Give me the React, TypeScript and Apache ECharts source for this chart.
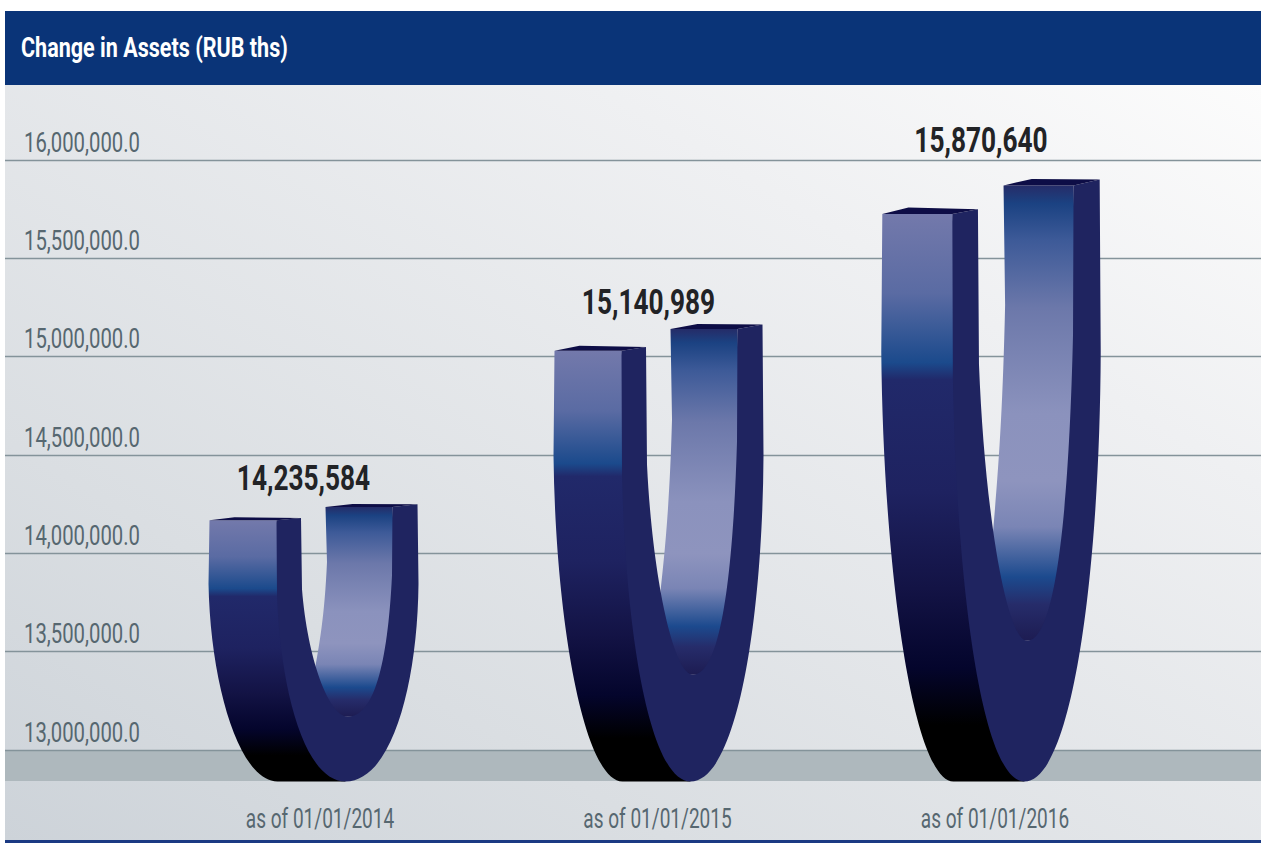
import React, { useEffect, useRef } from "react";
import * as echarts from "echarts";

// Reporting dates and total assets, RUB thousands
const categories = ["as of 01/01/2014", "as of 01/01/2015", "as of 01/01/2016"];
const assets = [14235584, 15140989, 15870640];
const tickValues = [13000000, 13500000, 14000000, 14500000, 15000000, 15500000, 16000000];
const tickStep = 500000;
// The U shapes stand on a floor slightly under the lowest tick
const floorValue = 12840000;

const titleText = "Change in Assets (RUB ths)";

// Per-column nudges of the shape and of its value caption, in pixels
const shapeShift = [-6.5, 1, -4];
const shapeWidth = [1, 1, 1.045];
const captionLift = [29, 27, 45];

const face = "Roboto, sans-serif";
const axisText = "#566770";
const navy = "#1f2460";
const capColor = "#0d0d46";

const outerStops = [
  [0, "#7379ab"], [0.14, "#5a6ba3"], [0.262, "#1b4a8c"], [0.292, "#21296a"],
  [0.49, "#1e2260"], [0.66, "#131345"], [0.8, "#04052c"], [0.9, "#000000"], [1, "#000000"],
];
const innerStops = [
  [0, "#252c68"], [0.04, "#1b4282"], [0.12, "#3d5a98"], [0.27, "#6c78aa"], [0.5, "#8b92bd"],
  [0.65, "#8e94be"], [0.75, "#7a85b5"], [0.86, "#1c4a8e"], [0.92, "#262c6a"], [1, "#1d1c52"],
];

const verticalFill = (stops: (string | number)[][]) =>
  new echarts.graphic.LinearGradient(
    0, 0, 0, 1,
    stops.map(([offset, color]) => ({ offset: offset as number, color: color as string }))
  );

// Roboto squeezed sideways stands in for the condensed face of the captions
const squeezedText = (
  text: string, x: number, y: number, size: number, scaleX: number,
  fill: string, align: string, weight = "normal"
) => ({
  type: "text",
  x,
  y,
  scaleX,
  style: {
    text,
    x: 0,
    y: 0,
    align,
    verticalAlign: "middle",
    fontFamily: face,
    fontWeight: weight,
    fontSize: size,
    fill,
  },
});

// One extruded U: outer wall, inner wall, flat front face, two end caps, captions
function renderU(params: any, api: any) {
  const index = api.value(0);
  const value = api.value(1);
  const [centre, top] = api.coord([index, value]);
  const [, floor] = api.coord([index, floorValue]);
  const cx = centre + shapeShift[index];
  const h = floor - top;
  const k = shapeWidth[index];
  const p = (dx: number, t: number) => `${(cx + dx * k).toFixed(2)} ${(floor - t * h).toFixed(2)}`;

  const outer =
    `M${p(-104, 0.952)} L${p(-105, 0.72)} C${p(-103, 0.35)} ${p(-74, 0)} ${p(-36, 0)} ` +
    `L${p(32, 0)} L${p(0, 0.3)} L${p(-25, 0.7)} L${p(-37, 0.952)} Z`;
  const inner =
    `M${p(12, 1)} L${p(79, 1)} L${p(82, 0.75)} L${p(80, 0.5)} L${p(70, 0.3)} L${p(55, 0.236)} ` +
    `L${p(15, 0.236)} L${p(0, 0.38)} C${p(6, 0.5)} ${p(11, 0.6)} ${p(13.5, 0.8)} Z`;
  const front =
    `M${p(-37, 0.952)} L${p(-12.5, 0.96)} L${p(-11.5, 0.7)} C${p(-6, 0.45)} ${p(15, 0.236)} ${p(34.5, 0.236)} ` +
    `C${p(60, 0.236)} ${p(74, 0.42)} ${p(78.5, 0.75)} L${p(79, 1)} L${p(104, 1.01)} L${p(105, 0.72)} ` +
    `C${p(104, 0.35)} ${p(78, 0)} ${p(32, 0)} C${p(-8, 0)} ${p(-33, 0.32)} ${p(-36.5, 0.68)} Z`;
  const leftCap = `M${p(-104, 0.952)} L${p(-79, 0.963)} L${p(-12.5, 0.96)} L${p(-37, 0.952)} Z`;
  const rightCap = `M${p(12, 1)} L${p(39, 1.011)} L${p(104, 1.01)} L${p(79, 1)} Z`;

  const part = (d: string, fill: any) => ({
    type: "path",
    shape: { pathData: d },
    style: { fill },
  });

  return {
    type: "group",
    children: [
      part(outer, verticalFill(outerStops)),
      part(inner, verticalFill(innerStops)),
      part(front, navy),
      part(leftCap, capColor),
      part(rightCap, capColor),
      squeezedText(value.toLocaleString("en-US"), cx - 10, top - captionLift[index], 35, 0.75, "#222326", "center", "bold"),
      squeezedText(categories[index], centre, floor + 37, 28, 0.68, axisText, "center"),
    ],
  };
}

// Tick captions sit just above their grid lines
function renderTick(params: any, api: any) {
  const [, y] = api.coord([0, api.value(1)]);
  return squeezedText(`${api.value(1).toLocaleString("en-US")}.0`, 24, y - 18, 28, 0.725, axisText, "left");
}

export default function App() {
  const ref = useRef<HTMLDivElement>(null);

  useEffect(() => {
    document.body.style.margin = "0";
    document.body.style.background = "#ffffff";
    const chart = echarts.init(ref.current!, null, { renderer: "svg" });
    const yMin = tickValues[0];
    const yMax = tickValues[tickValues.length - 1];

    chart.setOption({
      animation: false,
      graphic: [
        {
          type: "rect",
          z: -3,
          shape: { x: 5, y: 85, width: 1256, height: 755 },
          style: {
            fill: new echarts.graphic.LinearGradient(0, 1, 1, 0, [
              { offset: 0, color: "#cdd3d9" },
              { offset: 0.265, color: "#dadee2" },
              { offset: 0.735, color: "#eff0f2" },
              { offset: 1, color: "#fcfcfc" },
            ]),
          },
        },
        { type: "rect", z: -2, shape: { x: 5, y: 750, width: 1256, height: 31 }, style: { fill: "#aeb8bd" } },
        { type: "rect", z: -2, shape: { x: 5, y: 11, width: 1256, height: 74 }, style: { fill: "#0a3478" } },
        { type: "rect", z: -2, shape: { x: 5, y: 840, width: 1256, height: 3 }, style: { fill: "#1b3a83" } },
        {
          type: "text",
          z: 3,
          x: 21,
          y: 47,
          scaleX: 0.77,
          style: {
            text: titleText,
            x: 0,
            y: 0,
            verticalAlign: "middle",
            fontFamily: face,
            fontWeight: "bold",
            fontSize: 28,
            fill: "#ffffff",
          },
        },
      ],
      grid: [
        { left: 5, right: 0, top: 160, height: 590 },
        { left: 151.25, width: 1012.5, top: 160, height: 590 },
      ],
      xAxis: [
        { gridIndex: 0, type: "value", min: 0, max: 1, show: false },
        {
          gridIndex: 1,
          type: "category",
          data: categories,
          axisLine: { show: false },
          axisTick: { show: false },
          splitLine: { show: false },
          axisLabel: { show: false },
        },
      ],
      yAxis: [
        {
          gridIndex: 0,
          type: "value",
          min: yMin,
          max: yMax,
          interval: tickStep,
          z: 1,
          axisLine: { show: false },
          axisTick: { show: false },
          axisLabel: { show: false },
          splitLine: { show: true, lineStyle: { color: "#84939a", width: 1.3 } },
        },
        { gridIndex: 1, type: "value", min: yMin, max: yMax, interval: tickStep, show: false },
      ],
      series: [
        {
          type: "custom",
          xAxisIndex: 0,
          yAxisIndex: 0,
          z: 4,
          renderItem: renderTick,
          encode: { x: 0, y: 1 },
          data: tickValues.map((v) => [0, v]),
        },
        {
          type: "custom",
          xAxisIndex: 1,
          yAxisIndex: 1,
          z: 5,
          renderItem: renderU,
          encode: { x: 0, y: 1 },
          data: assets.map((v, i) => [i, v]),
        },
      ],
    });

    return () => chart.dispose();
  }, []);

  return <div ref={ref} style={{ width: 1261, height: 843 }} />;
}
